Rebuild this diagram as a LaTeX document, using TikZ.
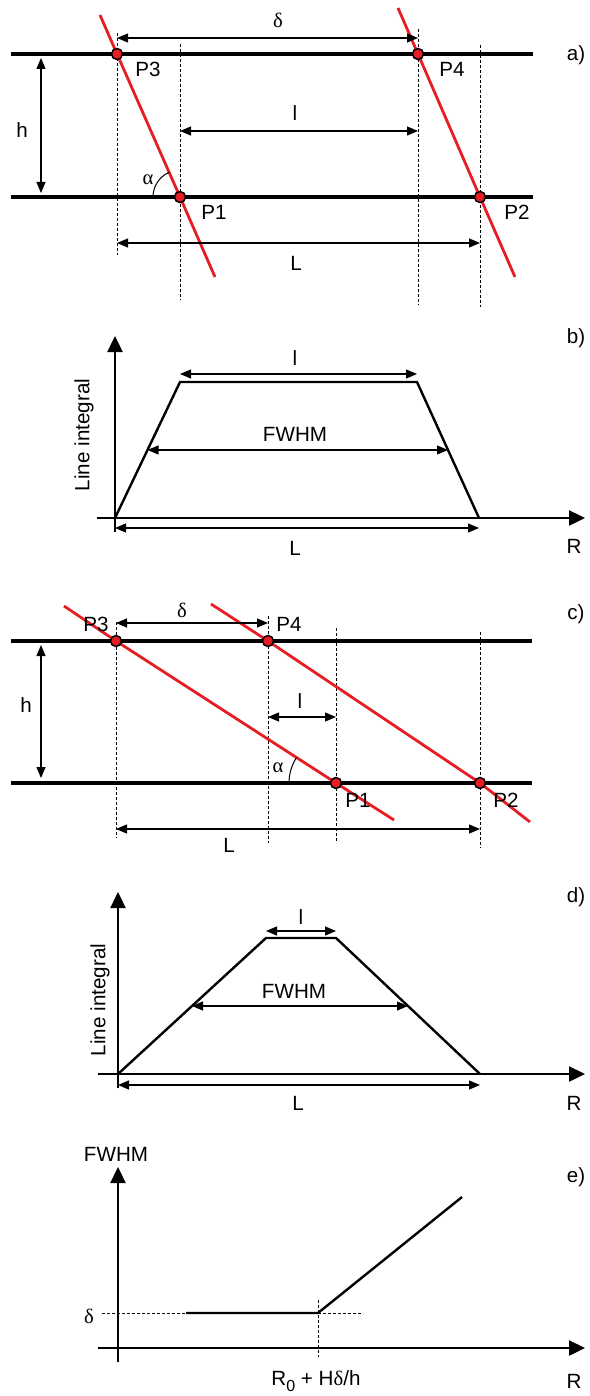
\documentclass[tikz,border=0pt]{standalone}
\usepackage{fontspec}
\setmainfont{Liberation Sans}
\newfontfamily\grk{Liberation Serif}
\usepackage{tikz}
\usetikzlibrary{arrows.meta}
\usetikzlibrary{calc}
\definecolor{raycol}{RGB}{230,30,36}
\tikzset{plate/.style={line width=3.2pt}}
\tikzset{ray/.style={draw=raycol, line width=2.8pt}}
\tikzset{guide/.style={line width=0.7pt, dash pattern=on 3pt off 2pt}}
\tikzset{span/.style={line width=1.2pt, {Triangle[length=11pt,width=9pt]}-{Triangle[length=11pt,width=9pt]}}}
\tikzset{axis/.style={line width=2.4pt, -{Triangle[length=16pt,width=15pt]}}}
\tikzset{profile/.style={line width=2.4pt, line join=miter}}
\tikzset{hit/.style={circle, draw, fill=raycol, line width=1.5pt, inner sep=0pt, minimum size=11pt}}
\tikzset{lbl/.style={inner sep=0pt, font=\fontsize{20.6}{24}\selectfont}}

\begin{document}
\begin{tikzpicture}[x=1pt, y=-1pt]
\useasboundingbox (0,0) rectangle (589,1396);

% a) steep rays
\coordinate (a3) at (117,54);
\coordinate (a4) at (418,54);
\coordinate (a1) at (180,197);
\coordinate (a2) at (480,197);
\draw[plate] (11,54) -- (533,54);
\draw[plate] (11,197) -- (533,197);
\draw[guide] (a3 |- 0,33) -- (a3 |- 0,255);
\draw[guide] (a1 |- 0,44) -- (a1 |- 0,300);
\draw[guide] (a4 |- 0,29) -- (a4 |- 0,305);
\draw[guide] (a2 |- 0,45) -- (a2 |- 0,307);
\draw[ray] (100,15) -- (a3) -- (a1) -- (215,277);
\draw[ray] (398,8) -- (a4) -- (a2) -- (515,277);
\draw[span] ([yshift=16pt]a3) -- ([yshift=16pt]a4);
\draw[span] (a1 |- 0,131) -- (a4 |- 0,131);
\draw[span] (a3 |- 0,243) -- (a2 |- 0,243);
\draw[span] (41,58) -- (41,193);
\draw[line width=1pt] (153,197) arc[start angle=180, end angle=246.4, radius=27];
\node[hit] (p3a) at (a3) {};
\node[hit] (p4a) at (a4) {};
\node[hit] (p1a) at (a1) {};
\node[hit] (p2a) at (a2) {};
\node[lbl] (dela) at (278,20) {\grk δ};
\node[lbl] (la) at (295,113) {l};
\node[lbl] (bigla) at (296,263) {L};
\node[lbl] (ha) at (22,130) {h};
\node[lbl] (alfa) at (148,180) {\grk α};
\node[lbl] (p3alab) at (148,69) {P3};
\node[lbl] (p4alab) at (452,69) {P4};
\node[lbl] (p1alab) at (214,212) {P1};
\node[lbl] (p2alab) at (517,212) {P2};
\node[lbl] (taga) at (576,55) {a)};

% b) profile for steep rays
\coordinate (b0) at (115,518);
\coordinate (b1) at (180,382);
\coordinate (b2) at (417,382);
\coordinate (b3) at (479,518);
\draw[axis] (97,518) -- (585,518);
\draw[axis] (115,532) -- (115,336);
\draw[profile] (b0) -- (b1) -- (b2) -- (b3);
\draw[span] ([yshift=8pt]b1) -- ([yshift=8pt]b2);
\draw[span] ($(b0)!0.5!(b1)$) -- ($(b2)!0.5!(b3)$);
\draw[span] ([yshift=-10pt]b0) -- ([yshift=-10pt]b3);
\node[lbl] (lb) at (295,358) {l};
\node[lbl] (fwb) at (295,434) {FWHM};
\node[lbl] (biglb) at (295,548) {L};
\node[lbl] (rb) at (574,546) {R};
\node[lbl, rotate=90] (yb) at (84,435) {Line integral};
\node[lbl] (tagb) at (576,338) {b)};

% c) shallow rays
\coordinate (c3) at (116,641);
\coordinate (c4) at (268,641);
\coordinate (c1) at (336,783);
\coordinate (c2) at (480,783);
\draw[plate] (11,641) -- (532,641);
\draw[plate] (11,783) -- (532,783);
\draw[guide] (c3 |- 0,622) -- (c3 |- 0,838);
\draw[guide] (c4 |- 0,616) -- (c4 |- 0,843);
\draw[guide] (c1 |- 0,628) -- (c1 |- 0,843);
\draw[guide] (c2 |- 0,632) -- (c2 |- 0,848);
\draw[ray] (64,606) -- (c3) -- (c1) -- (394,820);
\draw[ray] (211,604) -- (c4) -- (c2) -- (530,822);
\draw[span] ([yshift=18pt]c3) -- ([yshift=18pt]c4);
\draw[span] (c4 |- 0,717) -- (c1 |- 0,717);
\draw[span] (c3 |- 0,829) -- (c2 |- 0,829);
\draw[span] (41,645) -- (41,778);
\draw[line width=1pt] (289,783) arc[start angle=180, end angle=212.8, radius=47];
\node[hit] (p3c) at (c3) {};
\node[hit] (p4c) at (c4) {};
\node[hit] (p1c) at (c1) {};
\node[hit] (p2c) at (c2) {};
\node[lbl] (delc) at (182,610) {\grk δ};
\node[lbl] (lc) at (300,701) {l};
\node[lbl] (biglc) at (229,845) {L};
\node[lbl] (hc) at (26,705) {h};
\node[lbl] (alfc) at (278,768) {\grk α};
\node[lbl] (p3clab) at (96,624) {P3};
\node[lbl] (p4clab) at (289,624) {P4};
\node[lbl] (p1clab) at (358,800) {P1};
\node[lbl] (p2clab) at (506,800) {P2};
\node[lbl] (tagc) at (576,614) {c)};

% d) profile for shallow rays
\coordinate (d0) at (118,1074);
\coordinate (d1) at (266,938);
\coordinate (d2) at (336,938);
\coordinate (d3) at (480,1074);
\draw[axis] (98,1074) -- (585,1074);
\draw[axis] (118,1088) -- (118,892);
\draw[profile] (d0) -- (d1) -- (d2) -- (d3);
\draw[span] ([yshift=7pt]d1) -- ([yshift=7pt]d2);
\draw[span] ($(d0)!0.5!(d1)$) -- ($(d2)!0.5!(d3)$);
\draw[span] ([yshift=-11pt]d0) -- ([yshift=-11pt]d3);
\node[lbl] (ld) at (301,917) {l};
\node[lbl] (fwd) at (294,991) {FWHM};
\node[lbl] (bigld) at (298,1103) {L};
\node[lbl] (rd) at (574,1103) {R};
\node[lbl, rotate=90] (yd) at (100,1000) {Line integral};
\node[lbl] (tagd) at (576,897) {d)};

% e) FWHM against R
\coordinate (e1) at (186,1313);
\coordinate (e2) at (318,1313);
\coordinate (e3) at (462,1197);
\draw[axis] (98,1348) -- (585,1348);
\draw[axis] (118,1362) -- (118,1167);
\draw[guide] (102,1313) -- (e1);
\draw[guide] (e2) -- (363,1313);
\draw[guide] (e2 |- 0,1300) -- (e2 |- 0,1357);
\draw[profile] (e1) -- (e2) -- (e3);
\node[lbl] (fwe) at (116,1154) {FWHM};
\node[lbl] (dele) at (89,1316) {\grk δ};
\node[lbl] (ke) at (316,1381) {R\raisebox{-0.5ex}{\fontsize{16}{16}\selectfont 0} + H{\grk δ}/h};
\node[lbl] (re) at (574,1381) {R};
\node[lbl] (tage) at (576,1177) {e)};
\end{tikzpicture}
\end{document}
